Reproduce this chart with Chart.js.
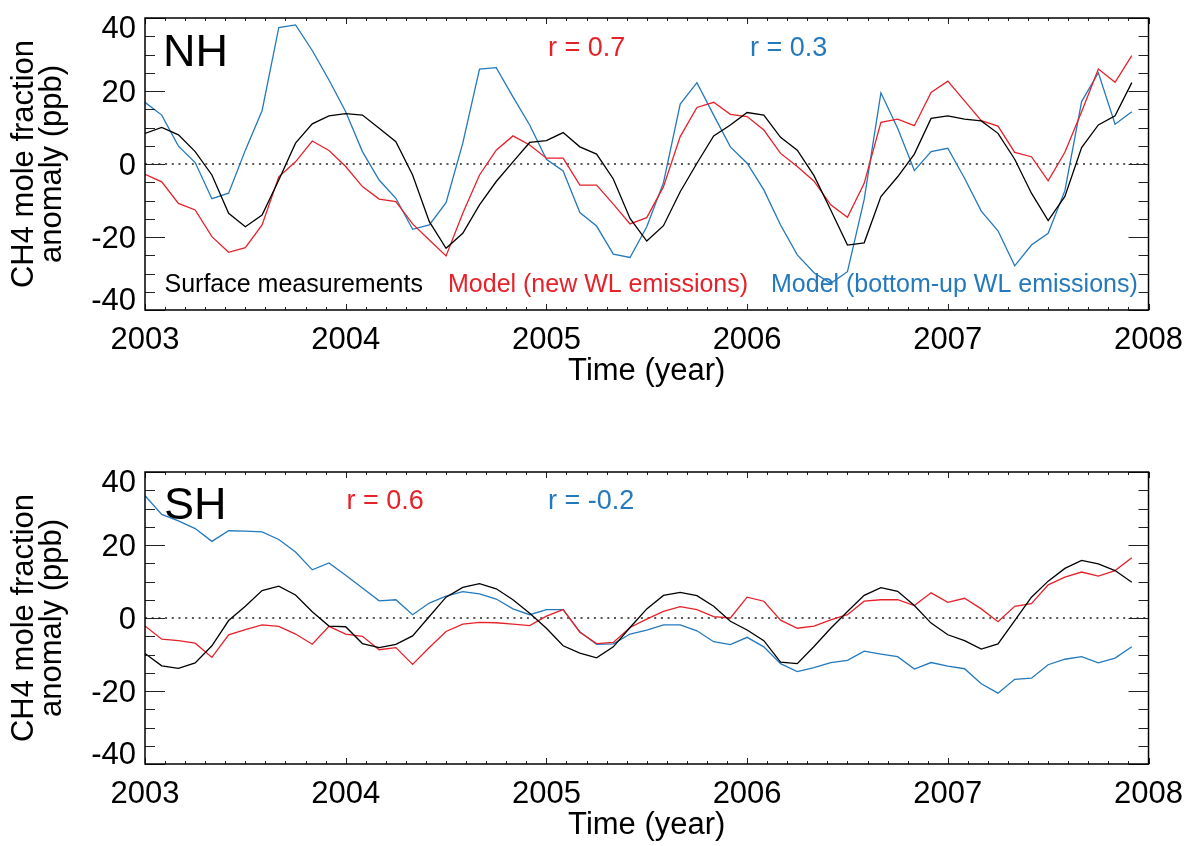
<!DOCTYPE html>
<html>
<head>
<meta charset="utf-8">
<title>CH4 anomaly NH / SH</title>
<script src="https://cdn.jsdelivr.net/npm/chart.js@4.4.1/dist/chart.umd.min.js"></script>
<style>
  html, body { margin: 0; padding: 0; background: #fff; }
  #wrap { position: relative; width: 1195px; height: 846px; overflow: hidden; }
  canvas { position: absolute; left: 0; }
  #nh { top: 0; }
  #sh { top: 454px; }
</style>
</head>
<body>
<div id="wrap">
  <canvas id="nh" width="1195" height="392"></canvas>
  <canvas id="sh" width="1195" height="392"></canvas>
</div>
<script>
// monthly values, Jan 2003 .. Dec 2007 (60 months)
const startYear = 2003;
const xYears = [2003, 2004, 2005, 2006, 2007, 2008];
const yTicks = [-40, -20, 0, 20, 40];

const nhSurface = [8.4, 10.0, 8.0, 3.4, -3.0, -13.5, -17.2, -14.0, -4.4, 5.7, 11.0, 13.2,
  13.8, 13.4, 9.8, 6.1, -3.0, -15.8, -23.1, -19.0, -11.2, -4.8, 0.6, 5.9,
  6.4, 8.6, 4.7, 2.7, -4.1, -14.9, -21.1, -16.9, -7.6, 0.2, 7.7, 10.7,
  14.1, 13.4, 7.3, 3.8, -3.2, -12.6, -22.2, -21.6, -8.9, -3.5, 2.7, 12.5,
  13.2, 12.3, 11.8, 8.4, 1.3, -8.0, -15.5, -8.9, 4.5, 10.7, 13.2, 22.3];
const nhModelNew = [-2.8, -4.9, -10.8, -12.6, -19.9, -24.2, -22.9, -16.7, -3.5, 0.6, 6.3, 3.7,
  -0.7, -6.2, -9.6, -10.3, -16.4, -20.8, -25.2, -13.5, -3.0, 3.8, 7.7, 5.2,
  1.6, 1.6, -5.8, -5.8, -11.0, -16.4, -14.7, -6.2, 7.5, 15.5, 16.9, 13.6,
  13.0, 9.3, 2.9, -0.7, -4.7, -11.2, -14.6, -5.3, 11.4, 12.3, 10.5, 19.6,
  22.7, 17.3, 11.9, 10.4, 3.2, 2.0, -4.6, 3.2, 14.3, 26.0, 22.4, 29.7];
const nhModelBU = [16.9, 13.4, 4.9, 0.4, -9.5, -8.0, 3.8, 14.6, 37.4, 38.1, 31.1, 23.0,
  14.3, 3.4, -4.4, -9.4, -17.9, -16.7, -10.6, 5.7, 26.0, 26.4, 18.4, 10.7,
  1.3, -1.9, -13.3, -17.0, -24.7, -25.6, -17.2, -5.1, 16.4, 22.3, 13.4, 4.7,
  0.2, -7.1, -16.7, -24.9, -29.8, -32.7, -29.5, -9.7, 19.5, 9.8, -1.8, 3.4,
  4.3, -3.9, -12.9, -18.3, -27.9, -22.2, -19.0, -7.3, 17.1, 25.0, 10.9, 14.3];

const shSurface = [-9.7, -13.1, -13.8, -12.3, -7.6, -0.7, 3.2, 7.5, 8.7, 6.3, 1.7, -2.2,
  -2.4, -7.0, -8.1, -7.2, -4.9, 0.4, 5.7, 8.4, 9.4, 8.0, 5.0, 1.3,
  -2.8, -7.6, -9.6, -10.9, -7.9, -2.6, 2.5, 6.2, 7.0, 6.1, 3.2, -0.9,
  -3.3, -6.2, -12.1, -12.5, -7.8, -2.8, 1.8, 6.2, 8.3, 7.3, 3.4, -1.4,
  -4.6, -6.2, -8.5, -7.1, -0.7, 5.7, 10.1, 13.6, 15.8, 14.8, 13.0, 9.8];
const shModelNew = [-2.2, -5.8, -6.2, -6.9, -10.8, -4.6, -3.2, -1.9, -2.3, -4.4, -7.2, -2.3,
  -4.4, -5.0, -8.7, -8.1, -12.7, -8.1, -3.7, -1.7, -1.2, -1.3, -1.7, -2.1,
  0.5, 2.3, -3.9, -7.0, -6.7, -2.6, -0.3, 1.8, 3.1, 2.3, 0.4, 0.0,
  5.7, 4.6, -0.6, -2.8, -2.2, -0.5, 0.9, 4.6, 5.0, 5.0, 3.4, 6.9,
  4.3, 5.4, 2.5, -1.0, 3.2, 3.9, 9.1, 11.2, 12.6, 11.5, 13.0, 16.5];
const shModelBU = [33.5, 28.4, 26.6, 24.5, 21.0, 23.9, 23.8, 23.6, 21.5, 18.1, 13.2, 15.1,
  11.7, 8.2, 4.7, 5.0, 0.9, 4.1, 6.0, 7.2, 6.6, 5.2, 2.5, 0.9,
  2.3, 2.3, -3.8, -7.2, -7.1, -4.4, -3.3, -1.9, -1.9, -3.5, -6.5, -7.3,
  -5.3, -7.9, -12.5, -14.7, -13.6, -12.2, -11.6, -9.1, -9.9, -10.6, -14.0, -12.2,
  -13.2, -13.9, -18.0, -20.6, -16.8, -16.5, -12.8, -11.3, -10.6, -12.3, -11.0, -7.9];

const seriesNames = ['Surface measurements', 'Model (new WL emissions)', 'Model (bottom-up WL emissions)'];
const nhCorr = ['r = 0.7', 'r = 0.3'];
const shCorr = ['r = 0.6', 'r = -0.2'];

const RED = '#e62129';
const BLUE = '#2479bd';
const FONT = '"Liberation Sans", Arial, Helvetica, sans-serif';

Chart.defaults.font.family = FONT;
Chart.defaults.color = '#000';

function toPoints(values) {
  return values.map((v, i) => ({ x: startYear + i / 12, y: v }));
}

// IDL-style box: inward ticks on all four sides, y labels, free text
const idlFrame = {
  id: 'idlFrame',
  afterDraw(chart, args, opts) {
    const { ctx, chartArea: a, scales: { x, y } } = chart;
    ctx.save();

    // tick marks
    ctx.strokeStyle = '#222';
    ctx.lineWidth = 1;
    ctx.beginPath();
    for (let v = -40; v <= 40; v += 5) {
      const py = Math.round(y.getPixelForValue(v)) + 0.5;
      const len = v % 20 === 0 ? 20 : 10;
      ctx.moveTo(a.left, py); ctx.lineTo(a.left + len, py);
      ctx.moveTo(a.right, py); ctx.lineTo(a.right - len, py);
    }
    for (let i = 0; i <= 50; i++) {
      const px = Math.round(x.getPixelForValue(startYear + i / 10)) + 0.5;
      const len = i % 10 === 0 ? 6 : 3;
      ctx.moveTo(px, a.top); ctx.lineTo(px, a.top + len);
      ctx.moveTo(px, a.bottom); ctx.lineTo(px, a.bottom - len);
    }
    ctx.stroke();

    // frame
    ctx.strokeStyle = '#000';
    ctx.lineWidth = 1.5;
    ctx.strokeRect(a.left, a.top, a.right - a.left, a.bottom - a.top);

    // y tick labels (edge labels kept inside the box height)
    ctx.font = '31px ' + FONT;
    ctx.fillStyle = '#000';
    ctx.textAlign = 'right';
    ctx.textBaseline = 'alphabetic';
    yTicks.forEach(v => {
      let b = y.getPixelForValue(v) + 11;
      b = Math.min(Math.max(b, a.top + 20), a.bottom);
      ctx.fillText(String(v), 136, b);
    });

    // panel labels, correlations, legend
    ctx.textAlign = 'left';
    (opts.texts || []).forEach(t => {
      ctx.font = t.size + 'px ' + FONT;
      ctx.fillStyle = t.color;
      ctx.fillText(t.text, t.x, t.y);
    });
    ctx.restore();
  }
};

function makeChart(id, black, red, blue, texts) {
  return new Chart(document.getElementById(id), {
    type: 'line',
    data: {
      datasets: [
        { data: toPoints(black), borderColor: '#000', borderWidth: 1.3 },
        { data: toPoints(red), borderColor: RED, borderWidth: 1.3 },
        { data: toPoints(blue), borderColor: BLUE, borderWidth: 1.3 },
        {
          data: [{ x: xYears[0], y: 0 }, { x: xYears[xYears.length - 1], y: 0 }],
          borderColor: '#222', borderWidth: 1.5, borderDash: [2, 4.7]
        }
      ]
    },
    options: {
      responsive: false,
      animation: false,
      devicePixelRatio: 1,
      layout: { padding: { top: 18, right: 40, left: 0, bottom: 0 } },
      elements: { point: { radius: 0 }, line: { tension: 0 } },
      plugins: {
        legend: { display: false },
        tooltip: { enabled: false },
        idlFrame: { texts: texts }
      },
      scales: {
        x: {
          type: 'linear',
          min: xYears[0],
          max: xYears[xYears.length - 1],
          grid: { display: false, drawTicks: false },
          border: { display: false },
          ticks: {
            stepSize: 1,
            padding: 12,
            maxRotation: 0,
            font: { size: 31 },
            color: '#000',
            callback: v => String(v)
          },
          title: {
            display: true,
            text: 'Time (year)',
            font: { size: 31 },
            color: '#000',
            padding: { top: 0, bottom: 2.4 }
          },
          afterFit: s => { s.height = 82; }
        },
        y: {
          min: -40,
          max: 40,
          grid: { display: false, drawTicks: false },
          border: { display: false },
          ticks: { display: false },
          title: {
            display: true,
            text: ['CH4 mole fraction', 'anomaly (ppb)'],
            font: { size: 31, lineHeight: 0.877 },
            color: '#000',
            padding: { top: 11.2, bottom: 0 }
          },
          afterFit: s => { s.width = 145; }
        }
      }
    },
    plugins: [idlFrame]
  });
}

makeChart('nh', nhSurface, nhModelNew, nhModelBU, [
  { text: 'NH', x: 163, y: 66, size: 45, color: '#000' },
  { text: nhCorr[0], x: 548, y: 56, size: 27, color: RED },
  { text: nhCorr[1], x: 750, y: 56, size: 27, color: BLUE },
  { text: seriesNames[0], x: 164.5, y: 292, size: 25, color: '#000' },
  { text: seriesNames[1], x: 448, y: 292, size: 25, color: RED },
  { text: seriesNames[2], x: 771, y: 292, size: 25, color: BLUE }
]);

makeChart('sh', shSurface, shModelNew, shModelBU, [
  { text: 'SH', x: 164, y: 64.5, size: 45, color: '#000' },
  { text: shCorr[0], x: 346.5, y: 55, size: 27, color: RED },
  { text: shCorr[1], x: 548, y: 55, size: 27, color: BLUE }
]);
</script>
</body>
</html>
